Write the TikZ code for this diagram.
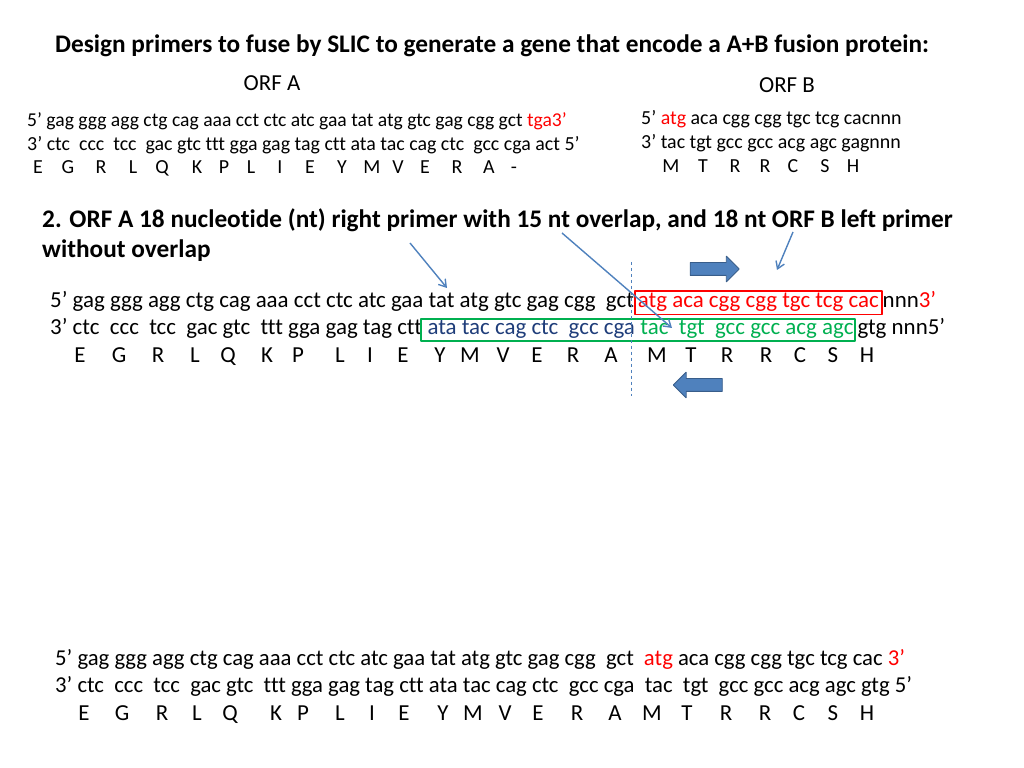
\documentclass[tikz,border=0pt]{standalone}
\usepackage{fontspec}
\setmainfont{Carlito}[Ligatures=NoCommon]
\usetikzlibrary{arrows.meta,shapes.arrows,fit}
\definecolor{slicblue}{HTML}{4F81BD}
\definecolor{slicedge}{HTML}{385D8A}
\definecolor{primgreen}{HTML}{00B050}
\definecolor{primnavy}{HTML}{1F3D7A}
\begin{document}
\begin{tikzpicture}[>={Straight Barb[length=7bp,width=9bp]},line join=bevel,
  txt/.style={anchor=base west,inner sep=0pt,font=\fontsize{23}{26}\selectfont},
  small/.style={anchor=base west,inner sep=0pt,font=\fontsize{20}{23}\selectfont},
  bold/.style={anchor=base west,inner sep=0pt,font=\fontsize{25.4}{30}\selectfont\bfseries},
  aa/.style={anchor=base,inner sep=0pt,font=\fontsize{23}{26}\selectfont},
  saa/.style={anchor=base,inner sep=0pt,font=\fontsize{20}{23}\selectfont},
  pointer/.style={slicblue,line width=1.4bp,->},
  blockarrow/.style={single arrow,fill=slicblue,draw=slicedge,line width=0.8bp,
    inner xsep=0pt,inner ysep=6bp,minimum height=49bp,single arrow head extend=6.5bp},
]
\useasboundingbox (0bp,0bp) rectangle (1024bp,768bp);
%% titles
\node (title) at (55bp,715bp) [bold] {Design primers to fuse by SLIC to generate a gene that encode a A+B fusion protein:};
\node (orfa) at (272bp,677bp) [anchor=base,font=\fontsize{23}{26}\selectfont] {ORF A};
\node (orfb) at (787bp,675bp) [anchor=base,font=\fontsize{23}{26}\selectfont] {ORF B};
%% ORF A
\node (orfa_top) at (27bp,641bp) [small,font=\fontsize{19.7}{23}\selectfont] {5’ gag ggg agg ctg cag aaa cct ctc atc gaa tat atg gtc gag cgg gct {\color{red}tga3’}};
\node (orfa_bot) at (27bp,617bp) [small] {3’ ctc\ \ ccc\ \ tcc\ \ gac gtc ttt gga gag tag ctt ata tac cag ctc\ \ gcc cga act 5’};
\node (a1) at (38bp,594bp) [saa] {E}; \node (a2) at (68bp,594bp) [saa] {G}; \node (a3) at (101bp,594bp) [saa] {R};
\node (a4) at (133bp,594bp) [saa] {L}; \node (a5) at (162bp,594bp) [saa] {Q}; \node (a6) at (197bp,594bp) [saa] {K};
\node (a7) at (224bp,594bp) [saa] {P}; \node (a8) at (251bp,594bp) [saa] {L}; \node (a9) at (280bp,594bp) [saa] {I};
\node (a10) at (310bp,594bp) [saa] {E}; \node (a11) at (342bp,594bp) [saa] {Y}; \node (a12) at (372bp,594bp) [saa] {M};
\node (a13) at (398bp,594bp) [saa] {V}; \node (a14) at (425bp,594bp) [saa] {E}; \node (a15) at (457bp,594bp) [saa] {R};
\node (a16) at (489bp,594bp) [saa] {A}; \node (a17) at (514bp,594bp) [saa] {-};
%% ORF B
\node (orfb_top) at (641bp,643bp) [small] {5’ {\color{red}atg} aca cgg cgg tgc tcg cacnnn};
\node (orfb_bot) at (641bp,619bp) [small] {3’ tac tgt gcc gcc acg agc gagnnn};
\node (b1) at (671bp,595bp) [saa] {M}; \node (b2) at (703bp,595bp) [saa] {T}; \node (b3) at (735bp,595bp) [saa] {R};
\node (b4) at (765bp,595bp) [saa] {R}; \node (b5) at (793bp,595bp) [saa] {C}; \node (b6) at (825bp,595bp) [saa] {S};
\node (b7) at (853bp,595bp) [saa] {H};
%% step 2
\node (step_a) at (42bp,540bp) [bold] {2. ORF A 18 nucleotide (nt) right primer with 15 nt overlap, and 18 nt ORF B left primer};
\node (step_b) at (42bp,510bp) [bold] {without overlap};
\node (fus_top) at (50bp,460bp) [txt] {5’ gag ggg agg ctg cag aaa cct ctc atc gaa tat atg gtc gag cgg\ \ gct\ };
\node (primer_b) at (fus_top.base east) [txt,text=red,draw=red,line width=1.8bp,inner xsep=3bp,inner ysep=2.5bp,anchor=base west] {atg aca cgg cgg tgc tcg cac};
\node (fus_top_end) at (primer_b.base east) [txt] {nnn{\color{red}3’}};
\node (fus_bot) at (50bp,433bp) [txt] {3’ ctc\ \ ccc\ \ tcc\ \ gac gtc\ \ ttt gga gag tag ctt};
\node (primer_a1) at (fus_bot.base east) [txt,text=primnavy] {\ ata tac cag ctc\ \ gcc cga\ };
\node (primer_a2) at (primer_a1.base east) [txt,text=primgreen] {\ tac\ \ tgt\ \ gcc gcc acg agc};
\node (primer_a) [fit=(primer_a1)(primer_a2),draw=primgreen,line width=1.8bp,inner xsep=1bp,inner ysep=1.5bp] {};
\node (fus_bot_end) at (primer_a2.base east) [txt] {\,gtg nnn5’};
\node (c1) at (80bp,405bp) [aa] {E}; \node (c2) at (119bp,405bp) [aa] {G}; \node (c3) at (158bp,405bp) [aa] {R};
\node (c4) at (195bp,405bp) [aa] {L}; \node (c5) at (228bp,405bp) [aa] {Q}; \node (c6) at (267bp,405bp) [aa] {K};
\node (c7) at (298bp,405bp) [aa] {P}; \node (c8) at (340bp,405bp) [aa] {L}; \node (c9) at (370bp,405bp) [aa] {I};
\node (c10) at (403bp,405bp) [aa] {E}; \node (c11) at (440bp,405bp) [aa] {Y}; \node (c12) at (470bp,405bp) [aa] {M};
\node (c13) at (503bp,405bp) [aa] {V}; \node (c14) at (537bp,405bp) [aa] {E}; \node (c15) at (573bp,405bp) [aa] {R};
\node (c16) at (611bp,405bp) [aa] {A}; \node (c17) at (657bp,405bp) [aa] {M}; \node (c18) at (691bp,405bp) [aa] {T};
\node (c19) at (727bp,405bp) [aa] {R}; \node (c20) at (766bp,405bp) [aa] {R}; \node (c21) at (800bp,405bp) [aa] {C};
\node (c22) at (833bp,405bp) [aa] {S}; \node (c23) at (867bp,405bp) [aa] {H};
%% junction and primer directions
\coordinate (cut_top) at (631bp,506bp);
\coordinate (cut_bot) at (631bp,370bp);
\draw [slicblue,dashed,line width=0.8bp] (cut_top) -- (cut_bot);
\node (fwd_dir) at (711.5bp,499bp) [blockarrow] {};
\node (rev_dir) at (701bp,383bp) [blockarrow,shape border rotate=180] {};
\coordinate (tail_1) at (410bp,525bp);
\coordinate (head_1) at (447bp,480bp);
\coordinate (tail_2) at (562bp,535bp);
\coordinate (head_2) at (672bp,440bp);
\coordinate (tail_3) at (793bp,536bp);
\coordinate (head_3) at (777bp,498bp);
\draw [pointer] (tail_1) -- (head_1);
\draw [pointer] (tail_2) -- (head_2);
\draw [pointer] (tail_3) -- (head_3);
%% fused product
\node (prod_top) at (55bp,102bp) [txt,font=\fontsize{22.8}{26}\selectfont] {5’ gag ggg agg ctg cag aaa cct ctc atc gaa tat atg gtc gag cgg\ \ gct\ \ {\color{red}atg} aca cgg cgg tgc tcg cac {\color{red}3’}};
\node (prod_bot) at (55bp,75bp) [txt,font=\fontsize{22.8}{26}\selectfont] {3’ ctc\ \ ccc\ \ tcc\ \ gac gtc\ \ ttt gga gag tag ctt ata tac cag ctc\ \ gcc cga\ \ tac\ \ tgt\ \ gcc gcc acg agc gtg 5’};
\node (d1) at (84bp,47bp) [aa] {E}; \node (d2) at (122bp,47bp) [aa] {G}; \node (d3) at (162bp,47bp) [aa] {R};
\node (d4) at (197bp,47bp) [aa] {L}; \node (d5) at (230bp,47bp) [aa] {Q}; \node (d6) at (276bp,47bp) [aa] {K};
\node (d7) at (303bp,47bp) [aa] {P}; \node (d8) at (340bp,47bp) [aa] {L}; \node (d9) at (372bp,47bp) [aa] {I};
\node (d10) at (404bp,47bp) [aa] {E}; \node (d11) at (443bp,47bp) [aa] {Y}; \node (d12) at (473bp,47bp) [aa] {M};
\node (d13) at (505bp,47bp) [aa] {V}; \node (d14) at (538bp,47bp) [aa] {E}; \node (d15) at (577bp,47bp) [aa] {R};
\node (d16) at (615bp,47bp) [aa] {A}; \node (d17) at (652bp,47bp) [aa] {M}; \node (d18) at (687bp,47bp) [aa] {T};
\node (d19) at (726bp,47bp) [aa] {R}; \node (d20) at (765bp,47bp) [aa] {R}; \node (d21) at (799bp,47bp) [aa] {C};
\node (d22) at (833bp,47bp) [aa] {S}; \node (d23) at (867bp,47bp) [aa] {H};
%
\end{tikzpicture}
\end{document}
